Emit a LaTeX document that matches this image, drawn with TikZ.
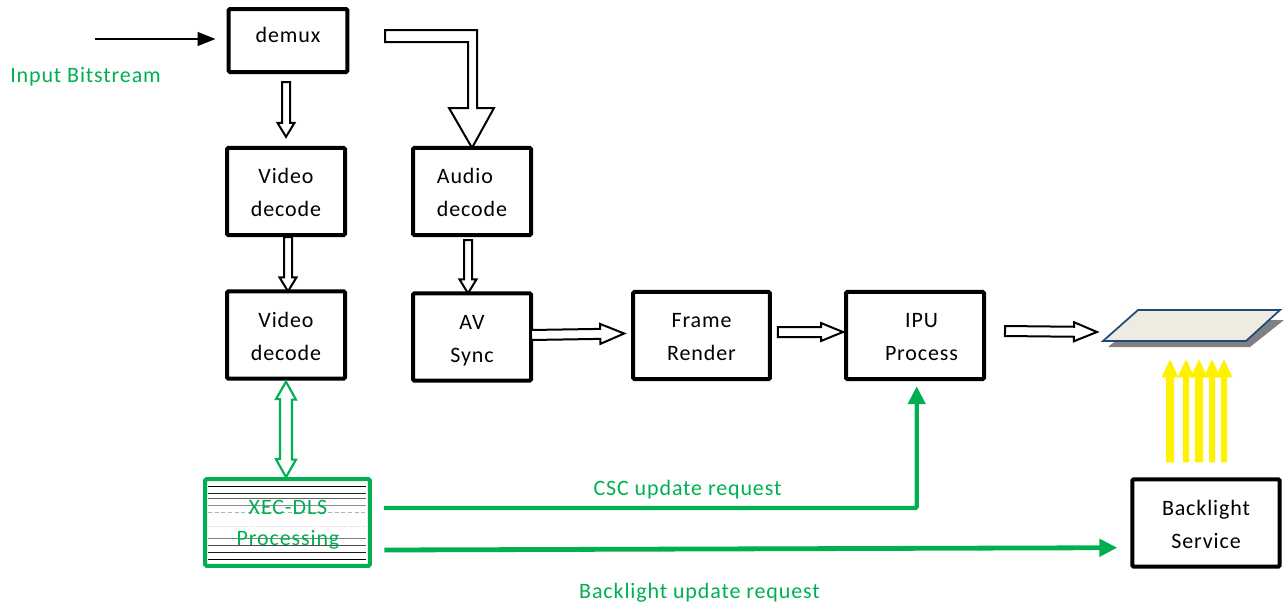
\documentclass[tikz,border=0pt]{standalone}
\usepackage{fontspec}
\setmainfont[LetterSpace=4]{Carlito}
\usetikzlibrary{calc,arrows.meta}
\definecolor{xgreen}{HTML}{00B050}
\definecolor{panelfill}{HTML}{EEECE1}
\definecolor{panelline}{HTML}{1F497D}
\tikzset{
  box/.style={draw=black,line width=3pt,rounded corners=1pt,fill=white,align=center,inner sep=0pt,outer sep=0pt,font=\fontsize{16.5pt}{24.75pt}\selectfont},
  twoline/.style={text height=38pt,text depth=0pt},
  greentext/.style={text=xgreen,inner sep=0pt,font=\fontsize{16.5pt}{24.75pt}\selectfont},
  hollow/.style={draw=black,line width=1.5pt,fill=white,line join=miter},
  hollowgreen/.style={draw=xgreen,line width=1.6pt,fill=white,line join=miter},
  yellowarrow/.style={draw=none,fill=yellow},
  greenline/.style={draw=xgreen,line width=3.2pt,rounded corners=1pt},
  gtip/.style={-{Triangle[length=13.5pt,width=12.75pt]}},
  hatch/.style={line width=.55pt}
}
% #1 style, #2 start, #3 end, #4 shaft width, #5 head width, #6 head length (px)
\newcommand{\blockarrow}[6]{%
  \pgfmathsetlengthmacro{\sw}{#4*0.375pt}%
  \pgfmathsetlengthmacro{\hw}{#5*0.375pt}%
  \pgfmathsetlengthmacro{\hl}{#6*0.75pt}%
  \coordinate (aA) at #2;
  \coordinate (aB) at #3;
  \coordinate (aH) at ($(aB)!\hl!(aA)$);
  \path[#1] ($(aA)!\sw!90:(aB)$) -- ($(aH)!\sw!90:(aB)$) -- ($(aH)!\hw!90:(aB)$) -- (aB)
     -- ($(aH)!\hw!-90:(aB)$) -- ($(aH)!\sw!-90:(aB)$) -- ($(aA)!\sw!-90:(aB)$) -- cycle;
}
\begin{document}
\begin{tikzpicture}[x=0.75pt,y=-0.75pt]
\path[use as bounding box] (0,0) rectangle (1284,604);

% Boxes
\node[box,minimum width=89pt,minimum height=47.25pt,text depth=8pt] (demux) at (288,40.5) {demux};
\node[box,twoline,minimum width=88.5pt,minimum height=65.5pt] (vd1) at (286,191.5) {Video\\decode};
\node[box,twoline,minimum width=88.5pt,minimum height=65.5pt] (vd2) at (286,335) {Video\\decode};
\node[box,twoline,minimum width=88.5pt,minimum height=65.5pt,align=left] (ad) at (472,191.5) {Audio\\decode};
\node[box,twoline,minimum width=88.5pt,minimum height=65.5pt] (av) at (472,337) {AV\\Sync};
\node[box,twoline,minimum width=102.5pt,minimum height=65.5pt] (fr) at (701.5,335.5) {Frame\\Render};
\node[box,twoline,minimum width=103.5pt,minimum height=65.5pt] (ipu) at (915,335.5) {\hspace*{9.75pt}IPU\\\hspace*{9.75pt}Process};
\node[box,twoline,minimum width=110.5pt,minimum height=65.5pt] (back) at (1206,523) {Backlight\\Service};

% XEC-DLS box
\node[box,draw=xgreen,text=xgreen,minimum width=123.5pt,minimum height=65pt] (xec) at (287.5,522.5) {};
\foreach \yy/\cc/\dd in {486.3/black/solid,493.6/black!85/solid,498.5/black!60/solid,505.3/black!45/solid,512.3/black!30/densely dashed,526.2/black!15/densely dotted,538.3/black!50/solid,545.5/black!70/solid,552.3/black!90/solid,559.7/black/solid}
  \draw[hatch,\cc,\dd] (208,\yy) -- (366,\yy);
\node[greentext] (xect) at (288,507.5) {XEC-DLS};
\node[greentext] (xecp) at (288,540) {Processing};

% Panel
\fill[black!50] (1108,347) -- (1142,320) -- (1284,320) -- (1250,347) -- cycle;
\draw[panelline,fill=panelfill,line width=1.3pt,line join=miter] (1103,341) -- (1138,310) -- (1280,310) -- (1246,341) -- cycle;
\coordinate (panelin) at (1097,332);

% Free ends
\coordinate (inputstart) at (95,39);
\coordinate (audiostart) at (385,36);

% Labels
\node[greentext,anchor=west] (inlabel) at (10,76.5) {Input Bitstream};
\node[greentext] (csclabel) at (687.5,490) {CSC update request};
\node[greentext] (bllabel) at (699.5,593) {Backlight update request};

% Input arrow
\draw[line width=2.2pt,-{Triangle[length=13.5pt,width=10pt]}] (inputstart) -- ($(demux.west |- inputstart)+(-13,0)$);

% Hollow arrows
\blockarrow{hollow}{($(demux.south)+(-2,10)$)}{($(vd1.north)+(0,-11)$)}{8}{17}{14}
\blockarrow{hollow}{($(vd1.south)+(2,2)$)}{($(vd2.north)+(2,0)$)}{8}{17}{14}
\blockarrow{hollow}{($(ad.south)+(-4,5)$)}{($(av.north)+(-4,0)$)}{8}{17}{14}
\blockarrow{hollow}{($(av.east)+(0,-2)$)}{($(fr.west)+(-9,-2)$)}{10}{20}{24}
\blockarrow{hollow}{($(fr.east)+(8,-3.5)$)}{($(ipu.west)+(-3,-3.5)$)}{10}{18}{22}
\blockarrow{hollow}{($(ipu.east)+(21,-4.5)$)}{(panelin)}{10}{19}{23}

% Bent audio arrow
\draw[hollow] (audiostart) ++(0,-6) coordinate (ba1) -- ++(92,0) coordinate (ba2)
  -- (ba2 |- 0,108) coordinate (ba3) -- (494,108) -- ($(ad.north)+(0,0)$)
  -- (449,108) -- (468,108) -- (468,42) -- (385,42) -- cycle;

% Bidirectional arrow
\draw[hollowgreen] ($(vd2.south)+(0,3)$) coordinate (tt) -- ++(10,18) -- ++(-4,0) -- ++(0,60) -- ++(4,0)
  -- ($(xec.north)+(-1.5,-2)$) coordinate (bb) -- ++(-10,-18) -- ++(4,0) -- ++(0,-60) -- ++(-4,0) -- cycle;

% Green control lines
\draw[greenline,gtip] ($(xec.east)+(14,-14.5)$) -| ($(ipu.south)+(1.7,7)$);
\draw[greenline,line width=3.6pt,gtip,rounded corners=0pt] ($(xec.east)+(14.5,27.5)$) -- ($(back.west)+(-15,24.7)$);

% Yellow arrows
\foreach \dx/\sw in {-36/8,-20/6,-7/8,6/6,18/6}{
  \blockarrow{yellowarrow}{($(back.north)+(\dx,-17)$)}{($(back.north)+(\dx,-120)$)}{\sw}{17}{18}
}
\end{tikzpicture}
\end{document}
